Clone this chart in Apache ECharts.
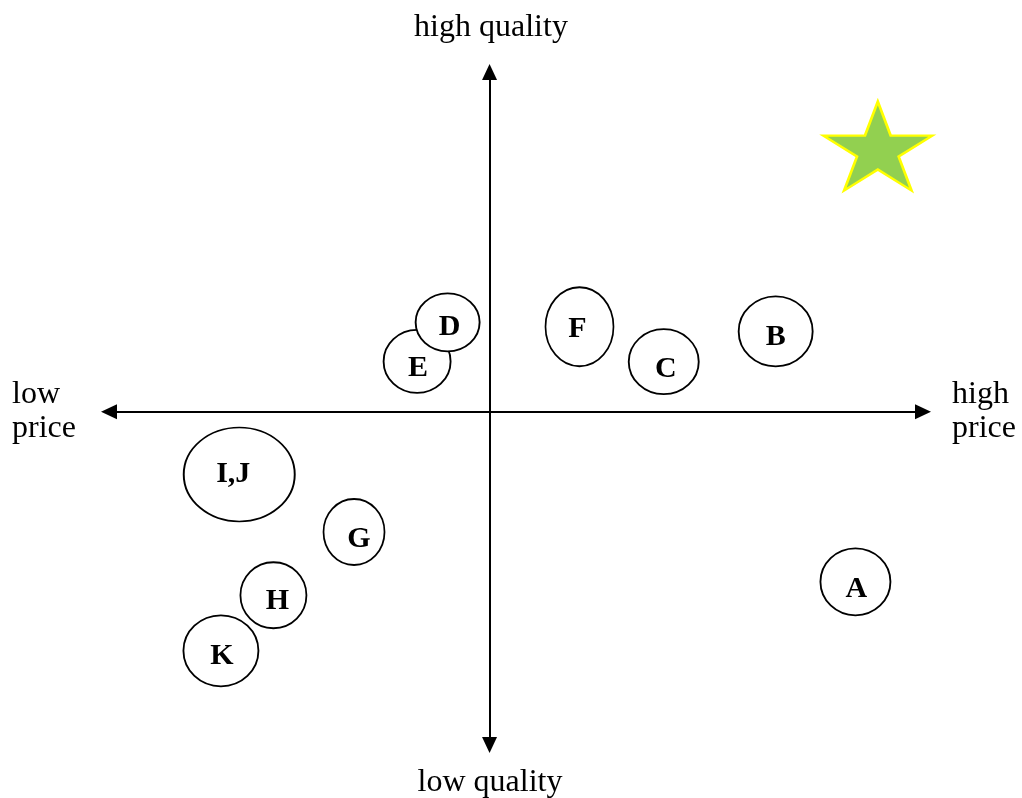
<!DOCTYPE html>
<html>
<head>
<meta charset="utf-8">
<script src="https://cdn.jsdelivr.net/npm/echarts@6/dist/echarts.min.js"></script>
<style>
html,body{margin:0;padding:0;background:#fff;}
#chart{width:1022px;height:798px;}
</style>
</head>
<body>
<div id="chart"></div>
<script>
// ---- data ----
const brands = ['A', 'B', 'C', 'E', 'D', 'F', 'G', 'H', 'I,J', 'K'];
const priceScores = [8.99, 7.03, 4.28, -1.78, -1.03, 2.21, -3.33, -5.31, -6.15, -6.60];
const qualityScores = [-5.05, 2.39, 1.49, 1.50, 2.66, 2.53, -3.57, -5.45, -1.86, -7.10];
const idealPoint = [9.54, 7.90];
const axisTitles = { top: 'high quality', bottom: 'low quality', left: ['low', 'price'], right: ['high', 'price'] };

// ---- styles (sizes / label nudges, not data) ----
const bubbleSize = {
  'A': [70, 67], 'B': [74, 70], 'C': [70, 65], 'D': [64, 58], 'E': [67, 63],
  'F': [68, 79], 'G': [61, 66], 'H': [66, 66], 'I,J': [111, 94], 'K': [75, 71]
};
const labelNudge = {
  'A': [1, 7], 'B': [0, 6], 'C': [2, 8], 'D': [2, 5], 'E': [1, 7],
  'F': [-2, 3], 'G': [5, 7], 'H': [4, 6], 'I,J': [-6, 0], 'K': [1, 5]
};

const starPath = 'path://M50,0 L61.23,34.55 L97.55,34.55 L68.17,55.9 L79.39,90.45 L50,69.1 L20.61,90.45 L31.83,55.9 L2.45,34.55 L38.77,34.55 Z';

const serif = '"Liberation Serif", "Times New Roman", serif';
const titleFont = '32px ' + serif;

const bubbleData = brands.map((b, i) => ({
  name: b,
  value: [priceScores[i], qualityScores[i]],
  symbolSize: bubbleSize[b],
  label: { offset: labelNudge[b] }
}));

const chart = echarts.init(document.getElementById('chart'), null, { renderer: 'canvas' });

const axisCommon = {
  type: 'value',
  splitLine: { show: false },
  axisTick: { show: false },
  axisLabel: { show: false },
  axisLine: {
    show: true,
    onZero: true,
    symbol: ['triangle', 'triangle'],
    symbolSize: [15, 16],
    lineStyle: { color: '#000', width: 2 }
  }
};

function txt(x, y, text, align) {
  return { type: 'text', style: { x: x, y: y, text: text, font: titleFont, fill: '#000', align: align, verticalAlign: 'middle' } };
}

chart.setOption({
  animation: false,
  backgroundColor: '#fff',
  grid: { left: 109, right: 1022 - 923, top: 72, bottom: 798 - 745, containLabel: false },
  xAxis: Object.assign({}, axisCommon, { min: -9.35, max: 10.65 }),
  yAxis: Object.assign({}, axisCommon, { min: -9.9, max: 10.1 }),
  graphic: [
    txt(491, 28, axisTitles.top, 'center'),
    txt(490, 783, axisTitles.bottom, 'center'),
    txt(12, 394.5, axisTitles.left[0], 'left'),
    txt(12, 428.5, axisTitles.left[1], 'left'),
    txt(952, 394.5, axisTitles.right[0], 'left'),
    txt(952, 428.5, axisTitles.right[1], 'left')
  ],
  series: [
    {
      type: 'scatter',
      symbol: 'circle',
      data: bubbleData,
      itemStyle: { color: '#fff', borderColor: '#000', borderWidth: 1.8, opacity: 1 },
      label: {
        show: true,
        position: 'inside',
        formatter: '{b}',
        color: '#000',
        fontFamily: serif,
        fontWeight: 'bold',
        fontSize: 30
      },
      emphasis: { disabled: true },
      z: 3
    },
    {
      type: 'scatter',
      symbol: starPath,
      symbolSize: [109, 89],
      symbolKeepAspect: false,
      data: [idealPoint],
      itemStyle: { color: '#92D050', borderColor: '#FFFF00', borderWidth: 2.5, opacity: 1 },
      emphasis: { disabled: true },
      z: 3
    }
  ]
});
</script>
</body>
</html>
